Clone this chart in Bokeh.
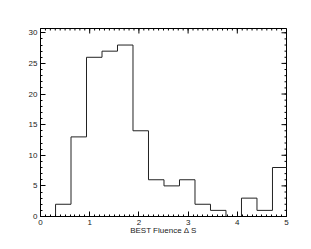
import math
from bokeh.plotting import figure
from bokeh.models import Range1d, LinearAxis, FixedTicker
from bokeh.embed import file_html
from bokeh.resources import INLINE

# Histogram of BEST Fluence ΔS
bin_edges = [0.306, 0.62, 0.935, 1.25, 1.565, 1.88, 2.195, 2.51, 2.825,
             3.14, 3.455, 3.77, 4.085, 4.40, 4.715, 5.03]
counts = [2, 13, 26, 27, 28, 14, 6, 5, 6, 2, 1, 0, 3, 1, 8]
x_ticks = [0, 1, 2, 3, 4, 5]
y_ticks = [0, 5, 10, 15, 20, 25, 30]
x_minor = [round(i * 0.1, 2) for i in range(0, 51)]
y_minor = list(range(0, 31))
x_label = "BEST Fluence \u0394 S"
x_min, x_max = 0, 5
y_min, y_max = 0, 30.7

# step outline built from bins
xs = [bin_edges[0]]
ys = [0]
for i, c in enumerate(counts):
    xs += [bin_edges[i], bin_edges[i + 1]]
    ys += [c, c]
xs.append(bin_edges[-1])
ys.append(0)

FONT = "Liberation Sans"
FS = "8px"

p = figure(frame_width=246, frame_height=188,
           min_border_left=40, min_border_right=9,
           min_border_top=28, min_border_bottom=10,
           x_range=Range1d(x_min, x_max), y_range=Range1d(y_min, y_max),
           x_axis_location=None, y_axis_location=None,
           output_backend="svg", toolbar_location=None)
p.grid.visible = False
p.outline_line_color = "black"
p.background_fill_color = "white"
p.border_fill_color = "white"

def style(ax):
    ax.axis_line_color = "black"
    ax.major_tick_line_color = "black"
    ax.minor_tick_line_color = "black"
    ax.major_tick_in = 5
    ax.major_tick_out = 0
    ax.minor_tick_in = 2
    ax.minor_tick_out = 0
    ax.major_label_text_font = FONT
    ax.major_label_text_font_size = FS
    ax.major_label_text_color = "#222222"
    ax.major_label_standoff = 3

xb = LinearAxis(ticker=FixedTicker(ticks=x_ticks, minor_ticks=x_minor),
                axis_label=x_label)
style(xb)
xb.axis_label_text_font = FONT
xb.axis_label_text_font_size = FS
xb.axis_label_text_font_style = "normal"
xb.axis_label_text_color = "#222222"
xb.axis_label_standoff = -2
p.add_layout(xb, "below")

yl = LinearAxis(ticker=FixedTicker(ticks=y_ticks, minor_ticks=y_minor))
style(yl)
p.add_layout(yl, "left")

# mirrored inward ticks on top and right edges (clipped to the frame)
p.scatter(x_ticks, [y_max] * len(x_ticks), marker="dash", size=10,
          angle=math.pi / 2, line_color="black", line_width=1)
p.scatter(x_minor, [y_max] * len(x_minor), marker="dash", size=4,
          angle=math.pi / 2, line_color="black", line_width=1)
p.scatter([x_max] * len(y_ticks), y_ticks, marker="dash", size=10,
          line_color="black", line_width=1)
p.scatter([x_max] * len(y_minor), y_minor, marker="dash", size=4,
          line_color="black", line_width=1)

p.line(xs, ys, line_color="#222222", line_width=1)

open("out.html", "w").write(file_html(p, INLINE))
